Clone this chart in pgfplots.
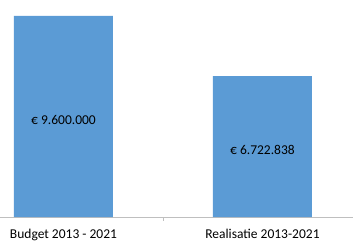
\documentclass[border=0pt]{standalone}
\usepackage{fontspec}
\setmainfont{Carlito}
\usepackage{pgfplots}
\pgfplotsset{compat=1.18}
\definecolor{barblue}{HTML}{5B9BD5}
\definecolor{axgray}{HTML}{BFBFBF}
\begin{document}
\begin{tikzpicture}
\begin{axis}[
  at={(0pt,25pt)}, anchor=south west,
  scale only axis, width=353pt, height=217pt,
  xmin=-0.319, xmax=1.455,
  ymin=0, ymax=10364000,
  axis x line*=bottom, axis y line=none,
  x axis line style={draw=axgray, line width=0.8pt, -},
  xtick={0,1}, xticklabels={Budget 2013 - 2021, Realisatie 2013-2021},
  major tick length=0pt,
  extra x ticks={0.5}, extra x tick labels={},
  extra x tick style={major tick length=3.5pt, tick align=outside, tick style={draw=axgray, line width=0.8pt}},
  xticklabel style={font=\fontsize{13.5}{15}\selectfont, yshift=-9pt},
  clip=false,
]
\addplot[ybar, bar width=99pt, fill=barblue, draw=none] coordinates {(0,9600000) (1,6722838)};
\addplot[draw=none, mark=none, nodes near coords, point meta=explicit symbolic,
  every node near coord/.style={anchor=center, font=\fontsize{13.5}{15}\selectfont, text=black}]
  coordinates {(0,4650000)[€ 9.600.000] (1,3200000)[€ 6.722.838]};
\end{axis}
\pgfresetboundingbox
\path[use as bounding box] (0,0) rectangle (353pt,242pt);
\end{tikzpicture}
\end{document}
